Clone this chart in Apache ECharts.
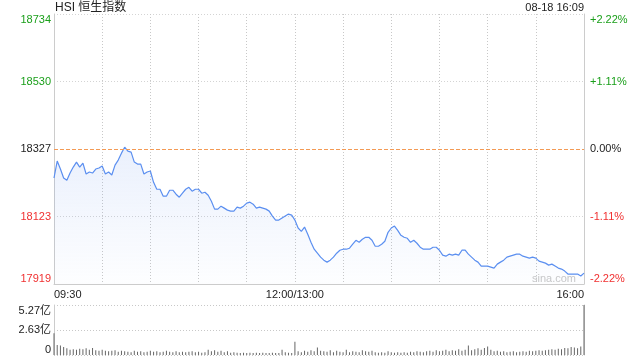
<!DOCTYPE html>
<html>
<head>
<meta charset="utf-8">
<script src="https://cdn.jsdelivr.net/npm/echarts@6/dist/echarts.min.js"></script>
<style>
  html, body { margin: 0; padding: 0; background: #fff; }
  #chart { width: 640px; height: 360px; }
</style>
</head>
<body>
<div id="chart"></div>
<script>
const title = 'HSI 恒生指数';
const stamp = '08-18 16:09';
const prevClose = 18327;

// index level, one reading every 2 minutes (09:30 ... 12:00 | 13:02 ... 16:00)
const prices = [
  18239, 18290, 18266, 18239, 18232, 18254, 18272, 18287, 18272, 18284,
  18251, 18257, 18254, 18266, 18269, 18275, 18251, 18257, 18248, 18278,
  18293, 18314, 18332, 18320, 18317, 18287, 18281, 18281, 18251, 18257,
  18260, 18226, 18205, 18205, 18184, 18184, 18202, 18202, 18190, 18181,
  18193, 18205, 18211, 18199, 18205, 18205, 18193, 18196, 18187, 18169,
  18145, 18145, 18154, 18148, 18142, 18139, 18139, 18151, 18148, 18154,
  18163, 18166, 18160, 18148, 18151, 18148, 18145, 18139, 18124, 18112,
  18112, 18118, 18124, 18130, 18127, 18112, 18088, 18078, 18091, 18069,
  18045, 18024, 18012, 18000, 17991, 17985, 17991, 18000, 18012, 18021,
  18024, 18024, 18027, 18039, 18051, 18045, 18054, 18060, 18060, 18051,
  18033, 18033, 18039, 18048, 18075, 18088, 18094, 18081, 18066, 18060,
  18057, 18045, 18051, 18042, 18030, 18024, 18024, 18024, 18030, 18030,
  18021, 18006, 18003, 18009, 18006, 18009, 18006, 18021, 18021, 18009,
  18000, 17991, 17985, 17973, 17973, 17973, 17970, 17967, 17979, 17985,
  17991, 18000, 18003, 18006, 18009, 18009, 18003, 18000, 17997, 18000,
  17997, 17988, 17985, 17982, 17976, 17979, 17973, 17967, 17964, 17958,
  17949, 17949, 17949, 17949, 17943, 17952
];

// turnover in 亿
const volumes = [
  2.30,
  1.05, 1.00, 0.85, 0.70, 0.55, 0.60, 0.55, 0.65, 0.60, 0.70,
  0.55, 0.75, 0.50, 0.45, 0.55, 0.45, 0.40, 0.45, 0.50, 0.35,
  0.45, 0.40, 0.35, 0.30, 0.45, 0.35, 0.40, 0.30, 0.35, 0.45,
  0.35, 0.40, 0.30, 0.35, 0.45, 0.35, 0.30, 0.40, 0.30, 0.35,
  0.30, 0.35, 0.40, 0.30, 0.35, 0.25, 0.30, 0.55, 0.40, 0.50,
  0.35, 0.45, 0.30, 0.40, 0.25, 0.30, 0.25, 0.20, 0.25, 0.20,
  0.25, 0.20, 0.25, 0.20, 0.25, 0.20, 0.20, 0.25, 0.20, 0.20,
  0.55, 0.30, 0.25, 0.20, 1.40,
  0.40, 0.30, 0.45, 0.35, 0.50, 0.40, 0.80, 0.45, 0.40, 0.35,
  0.50, 0.30, 0.45, 0.35, 0.30, 0.55, 0.30, 0.40, 0.35, 0.30,
  0.50, 0.40, 0.35, 0.45, 0.30, 0.25, 0.30, 0.25, 0.40, 0.30,
  0.25, 0.30, 0.25, 0.30, 0.25, 0.35, 0.30, 0.40, 0.35, 0.30,
  0.40, 0.45, 0.35, 0.50, 0.40, 0.45, 0.55, 0.40, 0.50, 0.45,
  0.60, 0.45, 0.55, 1.00, 0.50, 0.60, 0.70, 0.55, 0.75, 0.90,
  0.55, 0.40, 0.45, 0.35, 0.40, 0.30, 0.35, 0.40, 0.30, 0.35,
  0.40, 0.35, 0.45, 0.40, 0.45, 0.50, 0.45, 0.50, 0.55, 0.60,
  0.55, 0.65, 0.60, 0.75, 0.70, 0.85, 0.80, 0.70, 0.90, 5.27
];

// middle tick (index 2) is the previous close
const priceTicks = ['17919', '18123', '18327', '18530', '18734'];
const pctTicks = ['-2.22%', '-1.11%', '0.00%', '+1.11%', '+2.22%'];
const volTicks = ['0', '2.63亿', '5.27亿'];
const timeTicks = ['09:30', '12:00/13:00', '16:00'];

const yMin = +priceTicks[0];
const yMax = +priceTicks[priceTicks.length - 1];
const yStep = (yMax - yMin) / (priceTicks.length - 1);
const volMax = 5.27;

// category slots, 12:00 and 13:00 share one slot
const times = [];
const fmt = (m) => String(Math.floor(m / 60)).padStart(2, '0') + ':' + String(m % 60).padStart(2, '0');
for (let m = 570; m <= 720; m += 2) times.push(fmt(m));
for (let m = 782; m <= 960; m += 2) times.push(fmt(m));
const midIdx = 75;
const lastIdx = times.length - 1;

const FONT = '"Liberation Sans", Arial, "Noto Sans CJK SC", sans-serif';
const GREEN = '#1a9f1a';
const RED = '#f03030';
const DARK = '#222';
const ORANGE = '#f39a55';
const tickColor = (i) => (i < 2 ? RED : i === 2 ? DARK : GREEN);
const NONE = 'rgba(0,0,0,0)';

const chart = echarts.init(document.getElementById('chart'));
chart.setOption({
  animation: false,
  textStyle: { fontFamily: FONT },
  title: [
    { text: title, left: 55, top: 2, padding: 0, textStyle: { fontSize: 12, fontWeight: 'normal', color: '#222', fontFamily: FONT } },
    { text: stamp, right: 56, top: 2, padding: 0, textStyle: { fontSize: 11, fontWeight: 'normal', color: '#222', fontFamily: FONT } }
  ],
  graphic: [
    { type: 'text', left: 532, top: 273, style: { text: 'sina.com', fill: '#c8c8c8', font: '11px ' + FONT } }
  ],
  grid: [
    { left: 54, right: 56, top: 14, height: 270 },
    { left: 54, right: 56, top: 305, height: 50 }
  ],
  xAxis: [
    {
      type: 'category', gridIndex: 0, data: times, boundaryGap: false,
      axisLine: { lineStyle: { color: '#ccc' } },
      axisTick: { show: false },
      axisLabel: {
        color: '#222', fontSize: 11, margin: 5,
        interval: (i) => i === 0 || i === midIdx || i === lastIdx,
        formatter: (v, i) => (i === 0 ? timeTicks[0] : i === midIdx ? timeTicks[1] : timeTicks[2]),
        alignMinLabel: 'left', alignMaxLabel: 'right'
      },
      splitLine: { show: true, interval: (i) => i % 15 === 0 && i !== 0 && i !== lastIdx, lineStyle: { color: '#c8c8c8', type: [1, 2] } }
    },
    {
      type: 'category', gridIndex: 1, data: times, boundaryGap: false,
      axisLine: { show: false }, axisTick: { show: false }, axisLabel: { show: false }, splitLine: { show: false }
    }
  ],
  yAxis: [
    {
      type: 'value', gridIndex: 0, min: yMin, max: yMax, interval: yStep,
      axisLine: { show: true, lineStyle: { color: '#ccc' } },
      axisTick: { show: false },
      axisLabel: {
        fontSize: 11, margin: 3,
        formatter: (v, i) => priceTicks[i],
        color: (v, i) => tickColor(Math.round((v - yMin) / yStep)),
        verticalAlignMinLabel: 'bottom', verticalAlignMaxLabel: 'top'
      },
      splitLine: { lineStyle: { color: ['#d4d4d4', '#d4d4d4', NONE, '#d4d4d4', '#d4d4d4'], type: [1, 2] } }
    },
    {
      type: 'value', gridIndex: 0, position: 'right', min: yMin, max: yMax, interval: yStep,
      axisLine: { show: true, lineStyle: { color: '#ccc' } },
      axisTick: { show: false },
      axisLabel: {
        fontSize: 11, margin: 6,
        formatter: (v, i) => pctTicks[i],
        color: (v, i) => tickColor(Math.round((v - yMin) / yStep)),
        verticalAlignMinLabel: 'bottom', verticalAlignMaxLabel: 'top'
      },
      splitLine: { show: false }
    },
    {
      type: 'value', gridIndex: 1, min: 0, max: volMax, interval: volMax / 2,
      axisLine: { show: true, lineStyle: { color: '#ccc' } },
      axisTick: { show: false },
      axisLabel: {
        fontSize: 11, margin: 3, color: '#222',
        formatter: (v, i) => volTicks[i],
        verticalAlignMinLabel: 'bottom', verticalAlignMaxLabel: 'top'
      },
      splitLine: { lineStyle: { color: '#c8c8c8', type: [1, 2] } }
    },
    {
      type: 'value', gridIndex: 1, position: 'right', min: 0, max: volMax, interval: volMax / 2,
      axisLine: { show: true, lineStyle: { color: '#ccc' } },
      axisTick: { show: false }, axisLabel: { show: false }, splitLine: { show: false }
    }
  ],
  series: [
    {
      type: 'line', xAxisIndex: 0, yAxisIndex: 0, data: prices,
      showSymbol: false, smooth: false,
      lineStyle: { color: '#5b8ff0', width: 1.2 },
      areaStyle: {
        origin: 'start',
        color: new echarts.graphic.LinearGradient(0, 0, 0, 1, [
          { offset: 0, color: 'rgba(120,160,240,0.22)' },
          { offset: 1, color: 'rgba(120,160,240,0.02)' }
        ])
      },
      // previous close
      markLine: {
        silent: true, symbol: ['none', 'none'], precision: 0,
        label: { show: false },
        data: [{
          yAxis: prevClose,
          lineStyle: { color: ORANGE, type: 'dashed', dashOffset: 0, width: 1, opacity: 1 }
        }]
      }
    },
    {
      type: 'bar', xAxisIndex: 1, yAxisIndex: 2, data: volumes,
      barWidth: 1, itemStyle: { color: '#666' }
    }
  ]
});
</script>
</body>
</html>
